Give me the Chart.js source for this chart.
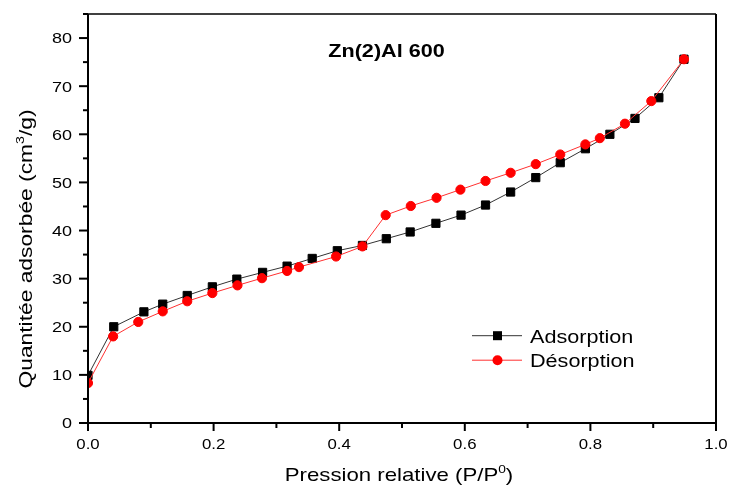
<!DOCTYPE html>
<html>
<head>
<meta charset="utf-8">
<script src="https://cdn.jsdelivr.net/npm/chart.js@4.4.1/dist/chart.umd.min.js"></script>
<style>
  html, body { margin: 0; padding: 0; background: #fff; }
  canvas { display: block; }
</style>
</head>
<body>
<canvas id="isotherm" width="729" height="490"></canvas>
<script>
// relative pressure (P/P0) and adsorbed quantity (cm3/g)
const adsX = [0.0, 0.041, 0.089, 0.119, 0.158, 0.198, 0.237, 0.278, 0.317, 0.357, 0.397, 0.437, 0.475,
  0.513, 0.554, 0.594, 0.633, 0.673, 0.713, 0.752, 0.792, 0.831, 0.871, 0.909, 0.949];
const adsY = [9.9, 20.0, 23.1, 24.7, 26.5, 28.3, 29.9, 31.3, 32.6, 34.2, 35.8, 36.9, 38.3,
  39.7, 41.5, 43.2, 45.3, 48.0, 51.0, 54.1, 57.0, 60.0, 63.3, 67.6, 75.6];
const desX = [0.0, 0.040, 0.080, 0.119, 0.158, 0.198, 0.238, 0.277, 0.317, 0.336, 0.395, 0.437, 0.474,
  0.514, 0.555, 0.593, 0.633, 0.673, 0.713, 0.752, 0.792, 0.815, 0.855, 0.897, 0.949];
const desY = [8.3, 18.0, 21.0, 23.2, 25.3, 27.0, 28.6, 30.1, 31.6, 32.4, 34.6, 36.7, 43.2,
  45.1, 46.8, 48.5, 50.3, 52.0, 53.8, 55.8, 57.9, 59.2, 62.2, 66.9, 75.6];

const seriesLabels = ["Adsorption", "Désorption"];
const chartTitle = "Zn(2)Al 600";

const SX = 1.2; // the original text is rendered a bit wide
const FONT = '"Liberation Sans", Arial, sans-serif';

function toPoints(xs, ys) {
  return xs.map((x, i) => ({ x, y: ys[i] }));
}

// draws text runs (with optional superscripts) at a baseline point
function richText(ctx, parts, x, y, opt) {
  const size = opt.size;
  const weight = opt.weight || "normal";
  const align = opt.align || "left";
  const font = (s) => `${weight} ${s}px ${FONT}`;
  const items = parts.map((p) => {
    const s = p.sup ? size * 0.62 : size;
    ctx.font = font(s);
    return { t: p.t, s, sup: p.sup, w: ctx.measureText(p.t).width };
  });
  const total = items.reduce((a, b) => a + b.w, 0);
  ctx.save();
  ctx.translate(x, y);
  if (opt.rotate) ctx.rotate(opt.rotate);
  ctx.scale(SX, 1);
  ctx.fillStyle = "#000";
  ctx.textAlign = "left";
  ctx.textBaseline = "alphabetic";
  let cx = align === "center" ? -total / 2 : align === "right" ? -total : 0;
  items.forEach((it) => {
    ctx.font = font(it.s);
    ctx.fillText(it.t, cx, it.sup ? -size * 0.42 : 0);
    cx += it.w;
  });
  ctx.restore();
}

function seg(ctx, x1, y1, x2, y2) {
  ctx.beginPath();
  ctx.moveTo(x1, y1);
  ctx.lineTo(x2, y2);
  ctx.stroke();
}

const framePlugin = {
  id: "frame",
  afterDraw(chart) {
    const { ctx, chartArea: a } = chart;
    const xs = chart.scales.x;
    const ys = chart.scales.y;
    ctx.save();
    ctx.strokeStyle = "#000";
    ctx.lineWidth = 1.5;
    seg(ctx, a.left, a.top, a.right, a.top);
    ctx.lineWidth = 2;
    seg(ctx, a.left, a.top, a.left, a.bottom + 1);
    seg(ctx, a.left - 1, a.bottom, a.right + 1, a.bottom);
    seg(ctx, a.right, a.top, a.right, a.bottom);

    ys.ticks.forEach((t) => {
      const py = ys.getPixelForValue(t.value);
      const major = Math.round(t.value) % 10 === 0;
      seg(ctx, a.left - (major ? 9 : 5), py, a.left, py);
      if (major) {
        richText(ctx, [{ t: String(Math.round(t.value)) }], 72, py + 5.4, { size: 15, align: "right" });
      }
    });
    xs.ticks.forEach((t) => {
      const px = xs.getPixelForValue(t.value);
      const k = Math.round(t.value * 10);
      const major = k % 2 === 0;
      seg(ctx, px, a.bottom, px, a.bottom + (major ? 8 : 5));
      if (major) {
        richText(ctx, [{ t: (k / 10).toFixed(1) }], px, 448.5, { size: 14, align: "center" });
      }
    });

    // axis titles
    richText(ctx, [{ t: "Pression relative (P/P" }, { t: "0", sup: true }, { t: ")" }], 399, 481,
      { size: 18.5, align: "center" });
    richText(ctx, [{ t: "Quantitée adsorbée (cm" }, { t: "3", sup: true }, { t: "/g)" }], 32, 249,
      { size: 19, align: "center", rotate: -Math.PI / 2 });

    // title
    richText(ctx, [{ t: chartTitle }], 386.5, 56.7, { size: 18, weight: "bold", align: "center" });

    // legend
    chart.data.datasets.forEach((ds, i) => {
      const cy = 335.7 + i * 24.5;
      ctx.strokeStyle = ds.borderColor;
      ctx.lineWidth = 1;
      seg(ctx, 472, cy, 522, cy);
      ctx.fillStyle = ds.pointBackgroundColor;
      if (ds.pointStyle === "rect") {
        ctx.fillRect(497.5 - 4.5, cy - 4.5, 9, 9);
      } else {
        ctx.beginPath();
        ctx.arc(497.5, cy, 5, 0, Math.PI * 2);
        ctx.fill();
      }
      richText(ctx, [{ t: ds.label }], 530, cy + 7, { size: 18 });
    });
    ctx.restore();
  },
};

new Chart(document.getElementById("isotherm").getContext("2d"), {
  type: "line",
  data: {
    datasets: [
      {
        label: seriesLabels[0],
        data: toPoints(adsX, adsY),
        borderColor: "#333",
        borderWidth: 1,
        pointStyle: "rect",
        pointRadius: 5.8,
        pointBorderWidth: 1,
        pointBackgroundColor: "#000",
        pointBorderColor: "#000",
        tension: 0,
        order: 1,
      },
      {
        label: seriesLabels[1],
        data: toPoints(desX, desY),
        borderColor: "#ff3030",
        borderWidth: 1,
        pointStyle: "circle",
        pointRadius: 4.6,
        pointBorderWidth: 1,
        pointBackgroundColor: "#ff0000",
        pointBorderColor: "#ff0000",
        tension: 0,
        order: 0,
      },
    ],
  },
  options: {
    responsive: false,
    animation: false,
    devicePixelRatio: 1,
    layout: { padding: { top: 14, right: 13, left: 0, bottom: 0 } },
    plugins: {
      legend: { display: false },
      tooltip: { enabled: false },
    },
    scales: {
      x: {
        type: "linear",
        min: 0,
        max: 1,
        ticks: { stepSize: 0.1, display: false },
        grid: { display: false },
        border: { display: false },
        afterFit: (s) => { s.height = 67; },
      },
      y: {
        type: "linear",
        min: 0,
        max: 85,
        ticks: { stepSize: 5, display: false },
        grid: { display: false },
        border: { display: false },
        afterFit: (s) => { s.width = 88; },
      },
    },
  },
  plugins: [framePlugin],
});
</script>
</body>
</html>
